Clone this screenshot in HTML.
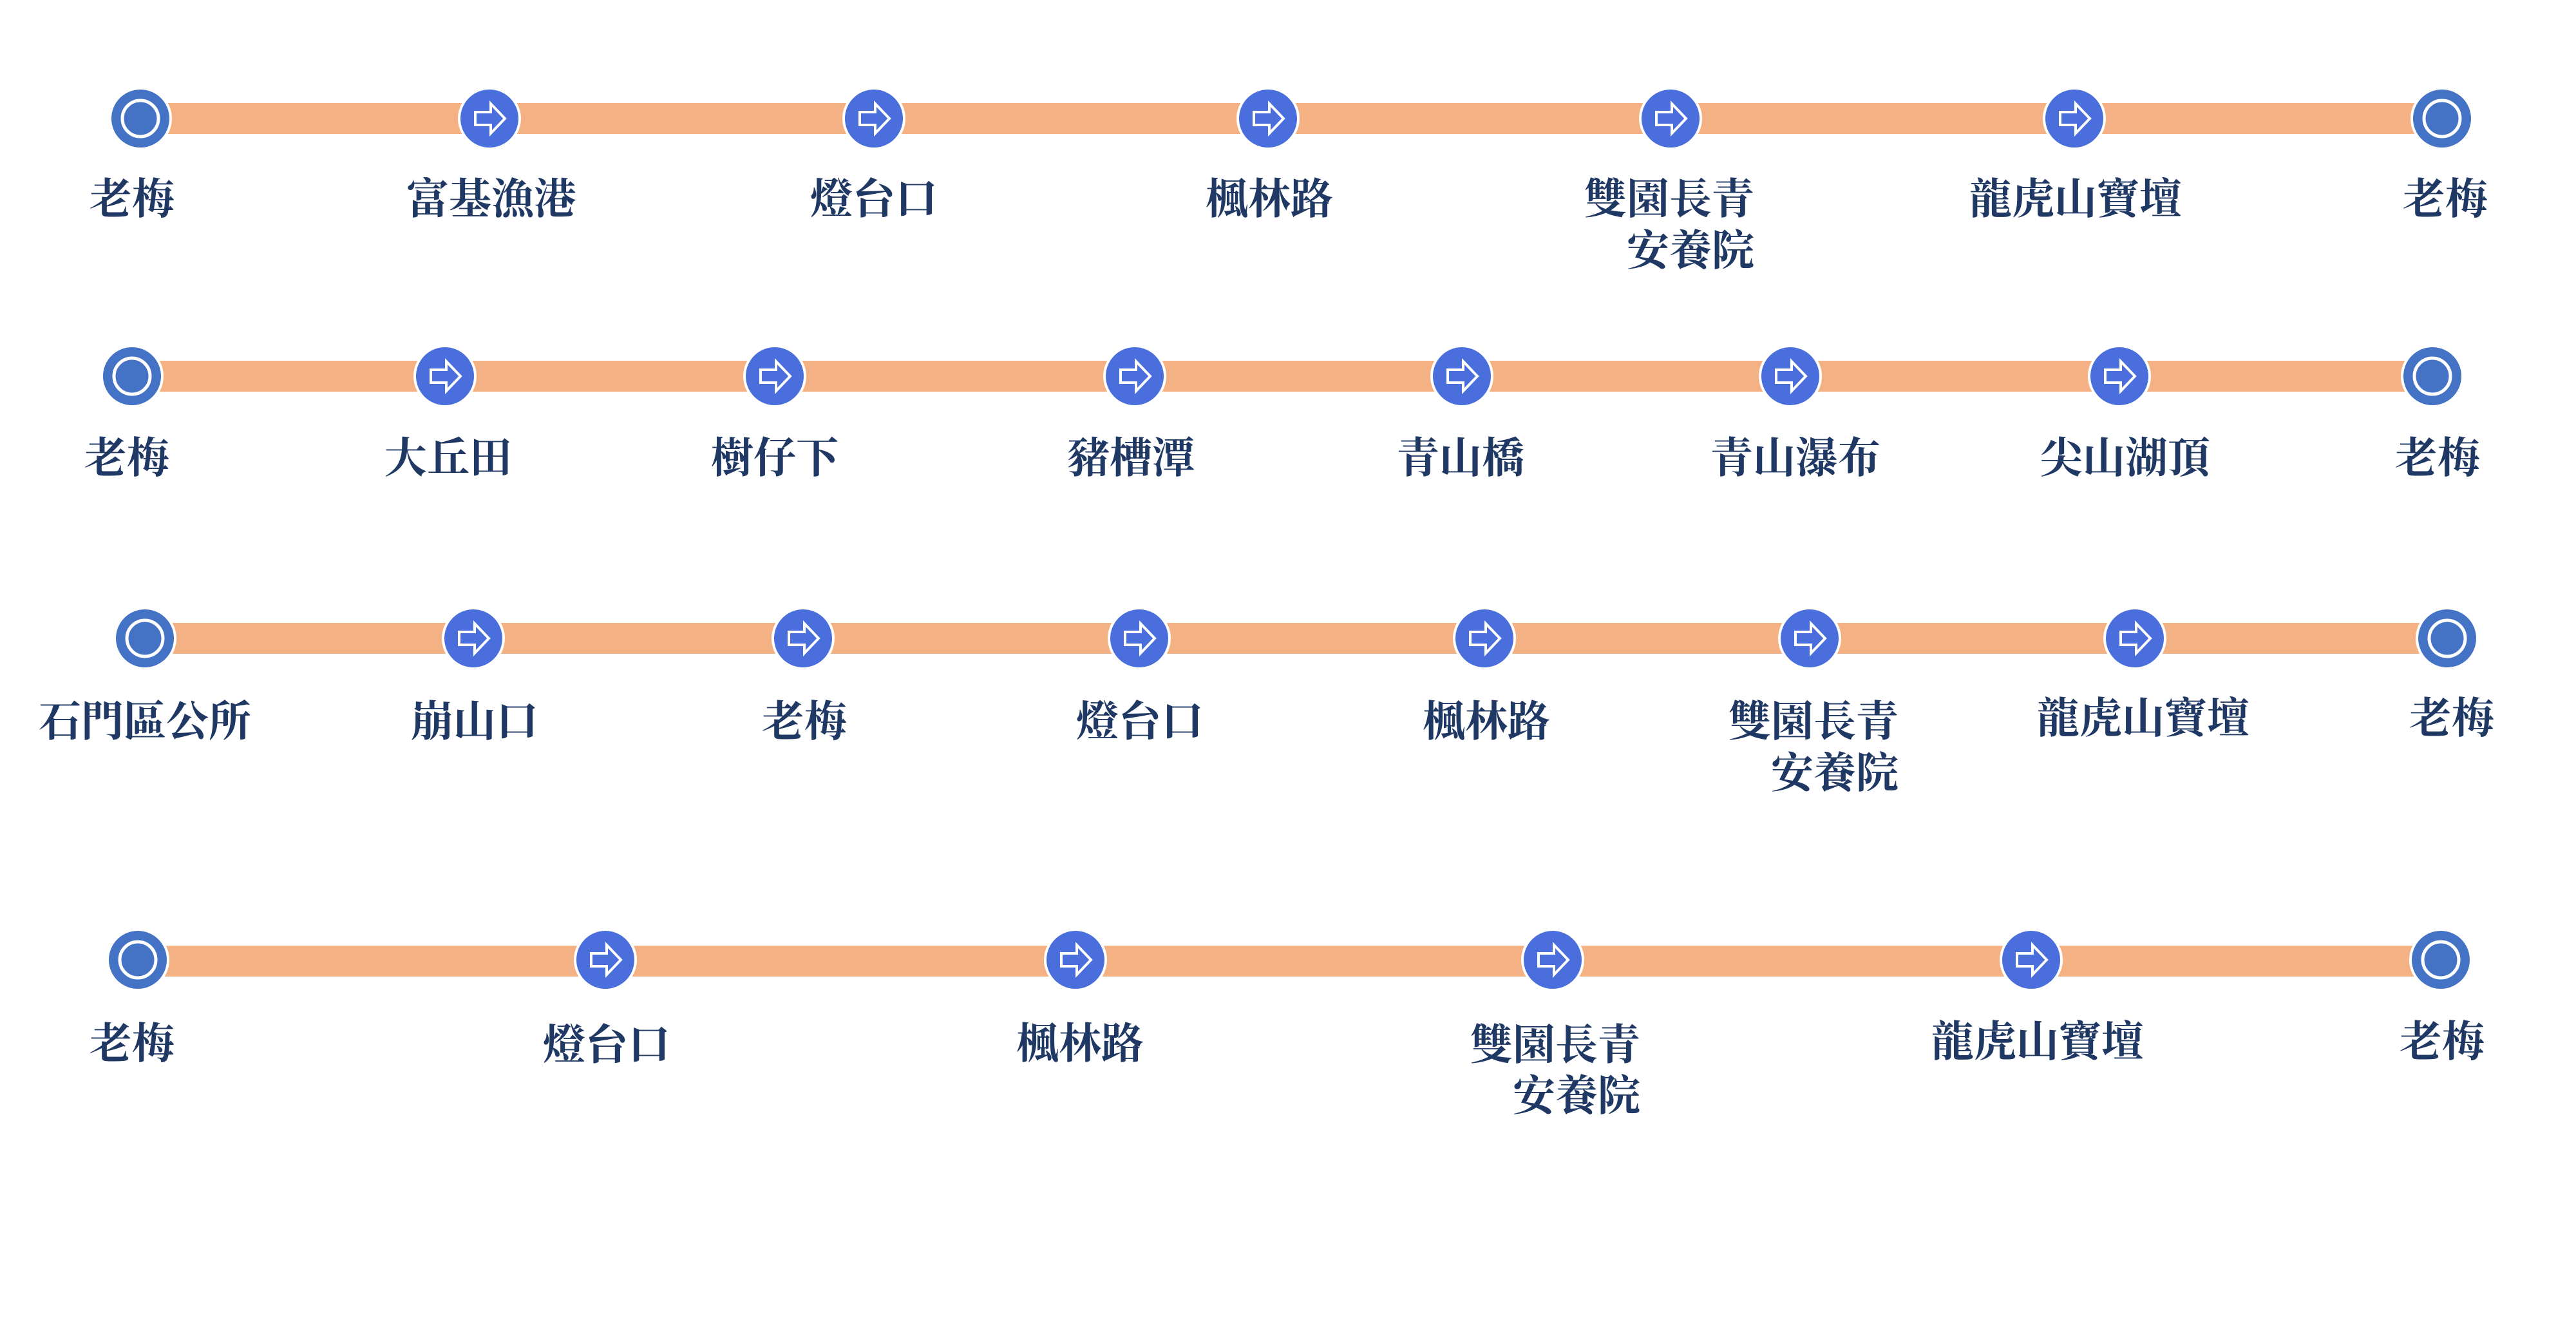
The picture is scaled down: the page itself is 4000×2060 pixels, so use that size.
<!DOCTYPE html>
<html><head><meta charset="utf-8"><style>
html,body{margin:0;padding:0;background:#fff;}
svg{display:block;}
text{font-family:"Liberation Serif","Noto Serif CJK SC","Noto Serif CJK TC",serif;font-weight:700;font-size:66px;fill:#1f3864;dominant-baseline:central;}
</style></head><body>
<svg width="4000" height="2060" viewBox="0 0 4000 2060" xmlns="http://www.w3.org/2000/svg">
<defs>
<g id="endc"><circle r="47" fill="#4472c4" stroke="#fff" stroke-width="4"/><circle r="28" fill="none" stroke="#fff" stroke-width="5"/></g>
<g id="arrc"><circle r="47" fill="#4a6fdc" stroke="#fff" stroke-width="4"/><polygon points="-22,-10 2,-10 2,-23 24,0 2,23 2,10 -22,10" fill="#4a6fdc" stroke="#fff" stroke-width="4" stroke-linejoin="miter"/></g>
</defs>
<g fill="#f4b183">
<rect x="218" y="160" width="3574" height="48"/>
<rect x="205" y="560" width="3572" height="48"/>
<rect x="225" y="967" width="3575" height="48"/>
<rect x="212" y="1468" width="3578" height="48"/>
</g>
<!-- Row 1 -->
<use href="#endc" x="218" y="184"/>
<use href="#arrc" x="760" y="184"/>
<use href="#arrc" x="1357" y="184"/>
<use href="#arrc" x="1969" y="184"/>
<use href="#arrc" x="2594" y="184"/>
<use href="#arrc" x="3221" y="184"/>
<use href="#endc" x="3792" y="184"/>
<g text-anchor="middle">
<text x="205" y="310">老梅</text>
<text x="763" y="310">富基漁港</text>
<text x="1357" y="310">燈台口</text>
<text x="1971" y="310">楓林路</text>
<text x="3223" y="310">龍虎山寶壇</text>
<text x="3797" y="310">老梅</text>
</g>
<g text-anchor="end">
<text x="2724" y="310">雙園長青</text>
<text x="2724" y="390">安養院</text>
</g>
<!-- Row 2 -->
<use href="#endc" x="205" y="584"/>
<use href="#arrc" x="691" y="584"/>
<use href="#arrc" x="1203" y="584"/>
<use href="#arrc" x="1762" y="584"/>
<use href="#arrc" x="2270" y="584"/>
<use href="#arrc" x="2780" y="584"/>
<use href="#arrc" x="3291" y="584"/>
<use href="#endc" x="3777" y="584"/>
<g text-anchor="middle">
<text x="197" y="712">老梅</text>
<text x="696" y="712">大丘田</text>
<text x="1203" y="712">樹仔下</text>
<text x="1756" y="712">豬槽潭</text>
<text x="2268" y="712">青山橋</text>
<text x="2788" y="712">青山瀑布</text>
<text x="3300" y="712">尖山湖頂</text>
<text x="3785" y="712">老梅</text>
</g>
<!-- Row 3 -->
<use href="#endc" x="225" y="991"/>
<use href="#arrc" x="735" y="991"/>
<use href="#arrc" x="1247" y="991"/>
<use href="#arrc" x="1769" y="991"/>
<use href="#arrc" x="2305" y="991"/>
<use href="#arrc" x="2810" y="991"/>
<use href="#arrc" x="3315" y="991"/>
<use href="#endc" x="3800" y="991"/>
<g text-anchor="middle">
<text x="225" y="1121">石門區公所</text>
<text x="737" y="1121">崩山口</text>
<text x="1249" y="1121">老梅</text>
<text x="1770" y="1121">燈台口</text>
<text x="2308" y="1121">楓林路</text>
<text x="3328" y="1116">龍虎山寶壇</text>
<text x="3807" y="1116">老梅</text>
</g>
<g text-anchor="end">
<text x="2948" y="1121">雙園長青</text>
<text x="2948" y="1201">安養院</text>
</g>
<!-- Row 4 -->
<use href="#endc" x="214" y="1490"/>
<use href="#arrc" x="940" y="1490"/>
<use href="#arrc" x="1670" y="1490"/>
<use href="#arrc" x="2411" y="1490"/>
<use href="#arrc" x="3154" y="1490"/>
<use href="#endc" x="3790" y="1490"/>
<g text-anchor="middle">
<text x="205" y="1621">老梅</text>
<text x="942" y="1623">燈台口</text>
<text x="1677" y="1621">楓林路</text>
<text x="3164" y="1618">龍虎山寶壇</text>
<text x="3792" y="1618">老梅</text>
</g>
<g text-anchor="end">
<text x="2547" y="1623">雙園長青</text>
<text x="2547" y="1702">安養院</text>
</g>
</svg>
</body></html>
